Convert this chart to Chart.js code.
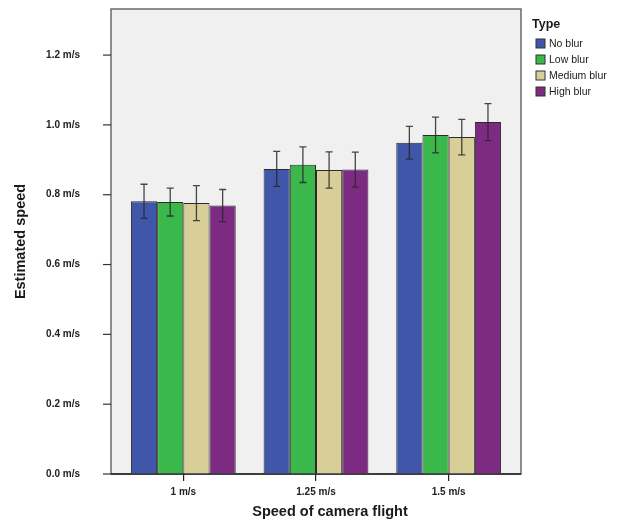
<!DOCTYPE html>
<html>
<head>
<meta charset="utf-8">
<title>Estimated speed by camera flight speed</title>
<script src="https://cdn.jsdelivr.net/npm/chart.js@4/dist/chart.umd.min.js"></script>
<style>
  html, body { margin: 0; padding: 0; background: #ffffff; }
  #wrap { width: 618px; height: 525px; }
</style>
</head>
<body>
<div id="wrap"><canvas id="chart" width="618" height="525"></canvas></div>
<script>
// Flight speed categories
const categories = ['1 m/s', '1.25 m/s', '1.5 m/s'];

// Mean estimated speed (m/s) per blur type
const noBlur     = [0.781, 0.874, 0.949];
const lowBlur    = [0.779, 0.886, 0.971];
const mediumBlur = [0.776, 0.871, 0.965];
const highBlur   = [0.769, 0.872, 1.008];

// Half-width of the error bars (m/s)
const noBlurErr     = [0.049, 0.050, 0.047];
const lowBlurErr    = [0.040, 0.051, 0.051];
const mediumBlurErr = [0.050, 0.052, 0.051];
const highBlurErr   = [0.046, 0.050, 0.053];

// Y axis tick values
const yTicks = [0, 0.2, 0.4, 0.6, 0.8, 1.0, 1.2];
const yMax = 1.332;

const seriesNames = ['No blur', 'Low blur', 'Medium blur', 'High blur'];
const seriesValues = [noBlur, lowBlur, mediumBlur, highBlur];
const seriesErrors = [noBlurErr, lowBlurErr, mediumBlurErr, highBlurErr];
const seriesColors = ['#3f56a9', '#3bb84b', '#d7cf97', '#7d2a83'];

const FONT = '"Liberation Sans", Arial, Helvetica, sans-serif';
const FRAME_PAD = 6; // frame extends this far beyond the category range on each side

// Plot background and frame, painted after the axes so only labels stay outside
const framePlugin = {
  id: 'frame',
  beforeDatasetsDraw(chart) {
    const { ctx, chartArea: a, scales } = chart;
    const left = a.left - FRAME_PAD, right = a.right + FRAME_PAD;
    ctx.save();
    ctx.fillStyle = '#f0f0f0';
    ctx.fillRect(left, a.top, right - left, a.bottom - a.top);
    ctx.strokeStyle = '#6a6a6a';
    ctx.lineWidth = 1.5;
    ctx.strokeRect(left, a.top, right - left, a.bottom - a.top);
    // y tick marks
    ctx.strokeStyle = '#333333';
    ctx.lineWidth = 1.2;
    yTicks.forEach(v => {
      const y = scales.y.getPixelForValue(v);
      ctx.beginPath();
      ctx.moveTo(left - 8, y);
      ctx.lineTo(left, y);
      ctx.stroke();
    });
    // x axis line
    ctx.strokeStyle = '#222222';
    ctx.lineWidth = 1.5;
    ctx.beginPath();
    ctx.moveTo(left, a.bottom);
    ctx.lineTo(right, a.bottom);
    ctx.stroke();
    ctx.restore();
  },
  afterDraw(chart) {
    const { ctx } = chart;
    ctx.save();
    ctx.fillStyle = '#1a1a1a';
    ctx.font = 'bold 14.5px ' + FONT;
    ctx.textAlign = 'center';
    ctx.textBaseline = 'middle';
    ctx.fillText('Speed of camera flight', 330, 512);
    ctx.restore();
  }
};

// Error bars drawn from each bar's own geometry
const errorBarPlugin = {
  id: 'errorBars',
  afterDatasetsDraw(chart) {
    const { ctx, scales } = chart;
    ctx.save();
    ctx.strokeStyle = 'rgba(40,40,40,0.85)';
    ctx.lineWidth = 1.3;
    chart.data.datasets.forEach((ds, di) => {
      const meta = chart.getDatasetMeta(di);
      meta.data.forEach((bar, i) => {
        const v = ds.data[i], e = seriesErrors[di][i];
        const x = bar.x;
        const yt = scales.y.getPixelForValue(v + e);
        const yb = scales.y.getPixelForValue(v - e);
        ctx.beginPath();
        ctx.moveTo(x, yt); ctx.lineTo(x, yb);
        ctx.moveTo(x - 3.5, yt); ctx.lineTo(x + 3.5, yt);
        ctx.moveTo(x - 3.5, yb); ctx.lineTo(x + 3.5, yb);
        ctx.stroke();
      });
    });
    ctx.restore();
  }
};

// Legend at the right with a bold title
const legendPlugin = {
  id: 'sideLegend',
  afterDraw(chart) {
    const { ctx } = chart;
    ctx.save();
    ctx.fillStyle = '#1a1a1a';
    ctx.font = 'bold 12.5px ' + FONT;
    ctx.textBaseline = 'middle';
    ctx.textAlign = 'left';
    ctx.fillText('Type', 532, 25);
    ctx.font = '10.5px ' + FONT;
    chart.data.datasets.forEach((ds, i) => {
      const cy = 43.5 + i * 16;
      ctx.fillStyle = ds.backgroundColor;
      ctx.fillRect(536, cy - 4.5, 9, 9);
      ctx.strokeStyle = '#333333';
      ctx.lineWidth = 1;
      ctx.strokeRect(536, cy - 4.5, 9, 9);
      ctx.fillStyle = '#1a1a1a';
      ctx.fillText(ds.label, 549, cy + 0.5);
    });
    ctx.restore();
  }
};

new Chart(document.getElementById('chart'), {
  type: 'bar',
  data: {
    labels: categories,
    datasets: seriesNames.map((name, i) => ({
      label: name,
      data: seriesValues[i],
      backgroundColor: seriesColors[i],
      borderColor: '#2a2a2a',
      borderWidth: 1,
      categoryPercentage: 0.79,
      barPercentage: 1.0
    }))
  },
  options: {
    responsive: false,
    animation: false,
    devicePixelRatio: 1,
    layout: { padding: { top: 9, right: 103, left: 0, bottom: 0 } },
    plugins: {
      legend: { display: false },
      tooltip: { enabled: false }
    },
    scales: {
      x: {
        offset: true,
        grid: { display: true, drawOnChartArea: false, tickLength: 7, color: '#222222', lineWidth: 1.2, offset: false },
        border: { display: false },
        ticks: { padding: 5, color: '#222222', font: { family: FONT, size: 10, weight: 'bold' } },
        afterFit(scale) { scale.height = 51; }
      },
      y: {
        min: 0,
        max: yMax,
        grid: { display: true, drawOnChartArea: false, drawTicks: true, tickLength: 34, color: 'rgba(0,0,0,0)' },
        border: { display: false },
        afterBuildTicks(scale) { scale.ticks = yTicks.map(v => ({ value: v })); },
        ticks: {
          padding: 3,
          color: '#222222',
          font: { family: FONT, size: 10, weight: 'bold' },
          callback: v => Number(v).toFixed(1) + ' m/s'
        },
        title: {
          display: true,
          text: 'Estimated speed',
          color: '#1a1a1a',
          font: { family: FONT, size: 14.5, weight: 'bold' },
          padding: { top: 12, bottom: 0 }
        },
        afterFit(scale) { scale.width = 117; }
      }
    }
  },
  plugins: [framePlugin, errorBarPlugin, legendPlugin]
});
</script>
</body>
</html>
